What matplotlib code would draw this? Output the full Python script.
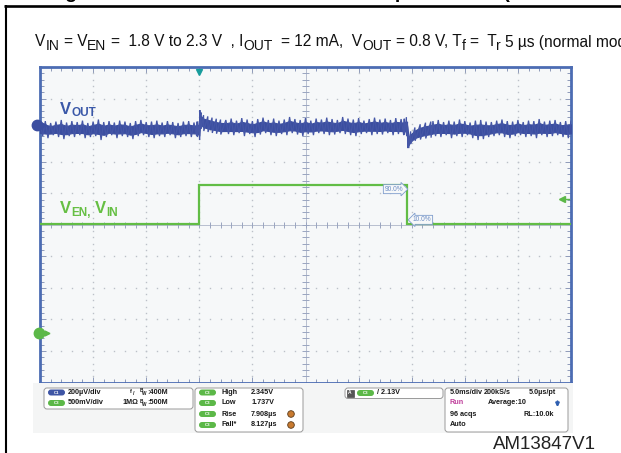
import numpy as np
import matplotlib
matplotlib.use('Agg')
import matplotlib.pyplot as plt
from matplotlib.patches import FancyBboxPatch, Rectangle, Circle
from matplotlib import transforms
from matplotlib.collections import LineCollection

plt.rcParams['font.family'] = ['Liberation Sans', 'DejaVu Sans']
plt.rcParams['mathtext.fontset'] = 'custom'
plt.rcParams['mathtext.rm'] = 'Liberation Sans'
plt.rcParams['mathtext.it'] = 'Liberation Sans:italic'
plt.rcParams['mathtext.bf'] = 'Liberation Sans:bold'

# ---------------- data ----------------
# time in ms (5 ms/div), trigger at t = 0
time_window = [-15.0, 35.0]

# V_EN / V_IN trace (V), 500 mV/div
ven_t = [-15.0, 0.0, 0.0, 19.6, 19.6, 35.0]
ven_v = [1.737, 1.737, 2.345, 2.345, 1.737, 1.737]
trig_level = 2.13
meas_high = 2.345
meas_low = 1.737

# V_OUT deviation from 0.8 V (uV), 200 uV/div; upper / lower noise envelope of the trace
# (upper samples at t, lower samples half a step later)
pre_t = np.arange(-15.0, -0.4, 0.5)
pre_hi = [19, 25, 13, 22, 32, 16, 25, 19, 28, 13, 22, 35, 19, 25, 16,
          28, 22, 13, 25, 32, 19, 22, 28, 16, 25, 19, 13, 22, 25, 16]
pre_lo = [-70, -83, -64, -76, -89, -70, -76, -64, -83, -76, -70, -95, -76, -64, -83,
          -70, -76, -89, -70, -64, -76, -83, -70, -76, -64, -83, -76, -70, -76, -70]

rise_t = [-0.2, 0.0, 0.05, 0.15, 0.4, 0.8, 1.2, 1.6, 2.0]
rise_hi = [22, 25, 95, 80, 63, 55, 47, 40, 35]
rise_lo = [-76, -95, -10, -25, -38, -44, -50, -55, -60]

mid_t = np.arange(2.5, 19.01, 0.5)
mid_hi = [32, 41, 28, 44, 35, 25, 38, 47, 32, 41, 28, 35, 51, 38, 32, 44, 28,
          41, 35, 47, 38, 32, 51, 41, 35, 44, 28, 38, 47, 35, 41, 32, 44, 38]
mid_lo = [-57, -64, -51, -70, -57, -76, -60, -51, -64, -70, -57, -64, -51, -60, -70, -57, -64,
          -51, -57, -64, -60, -51, -57, -64, -70, -57, -51, -64, -57, -60, -51, -64, -57, -64]

fall_t = [19.3, 19.5, 19.6, 19.7, 19.9, 20.3, 20.8, 21.3, 21.8]
fall_hi = [40, 50, 20, -60, -40, -15, 5, 15, 22]
fall_lo = [-60, -70, -146, -146, -120, -100, -92, -85, -80]

post_t = np.arange(22.0, 35.01, 0.5)
post_hi = [25, 32, 19, 28, 22, 35, 25, 16, 28, 32, 22, 19, 28, 35, 25, 22, 32, 19,
           28, 25, 38, 22, 28, 32, 19, 25, 28]
post_lo = [-70, -76, -64, -83, -70, -76, -64, -83, -95, -89, -76, -70, -64, -76, -83, -70, -64, -76,
           -70, -83, -64, -76, -70, -64, -76, -83, -70]

# ---------------- figure ----------------
W, H = 621, 453
fig = plt.figure(figsize=(W / 100, H / 100), dpi=100)

L, R, T, B = 40.0, 571.0, 67.0, 382.5
rect = [L / W, 1 - B / H, (R - L) / W, (B - T) / H]

# background grid axes in divisions
axg = fig.add_axes(rect, label='grid')
axg.set_xlim(0, 10)
axg.set_ylim(-5, 5)
axg.set_facecolor('#f6f8f9')
for s in axg.spines.values():
    s.set_color('#4c6cb3')
    s.set_linewidth(2.0)
axg.set_xticks(range(11))
axg.set_yticks(range(-5, 6))
axg.set_xticks(np.arange(0, 10.01, 0.2), minor=True)
axg.set_yticks(np.arange(-5, 5.01, 0.2), minor=True)
axg.tick_params(which='both', direction='in', top=True, right=True,
                labelleft=False, labelbottom=False, color='#8d9ab8', width=0.7)
axg.tick_params(which='major', length=4.5)
axg.tick_params(which='minor', length=2.8)
minx = np.arange(0, 10.01, 0.2)
miny = np.arange(-5, 5.01, 0.2)
for i in range(1, 10):
    if i == 5:
        continue
    axg.plot(np.full_like(miny, i), miny, ls='none', marker='s', ms=1.0, color='#bcc0c8', mec='none')
for j in range(-4, 5):
    if j == 0:
        continue
    axg.plot(minx, np.full_like(minx, j), ls='none', marker='s', ms=1.0, color='#bcc0c8', mec='none')
axg.axvline(5, color='#b8bfcf', lw=0.7)
axg.axhline(0, color='#b8bfcf', lw=0.7)
segs = [[(x, -0.09), (x, 0.09)] for x in minx] + [[(4.93, y), (5.07, y)] for y in miny]
axg.add_collection(LineCollection(segs, colors='#9aa5c0', linewidths=0.7))

# green trace axes (V)
ven_center, ven_scale = 1.72, 0.5
axv = fig.add_axes(rect, label='ven', frameon=False)
axv.set_xlim(*time_window)
axv.set_ylim(ven_center - 5 * ven_scale, ven_center + 5 * ven_scale)
axv.set_xticks([]); axv.set_yticks([])
axv.plot(ven_t, ven_v, color='#62bd46', lw=1.6, solid_joinstyle='miter')

# blue trace axes (uV)
vout_scale, vout_ref_div = 200.0, 3.16
axo = fig.add_axes(rect, label='vout', frameon=False)
axo.set_xlim(*time_window)
axo.set_ylim((-5 - vout_ref_div) * vout_scale, (5 - vout_ref_div) * vout_scale)
axo.set_xticks([]); axo.set_yticks([])

hi_t = np.concatenate([pre_t, rise_t, mid_t, fall_t, post_t])
hi_v = np.concatenate([pre_hi, rise_hi, mid_hi, fall_hi, post_hi]).astype(float)
lo_t = np.concatenate([pre_t + 0.25, np.array(rise_t) + 0.025, mid_t + 0.25,
                       np.array(fall_t) + 0.025, post_t + 0.25])
lo_v = np.concatenate([pre_lo, rise_lo, mid_lo, fall_lo, post_lo]).astype(float)

# dense core of the noisy trace
lo_on_hi = np.interp(hi_t, lo_t, lo_v)
centre = (hi_v + lo_on_hi) / 2
half = (hi_v - lo_on_hi) / 2
axo.fill_between(hi_t, centre - 0.55 * half, centre + 0.55 * half, color='#3b4ea0', lw=0.8,
                 edgecolor='#3b4ea0')
# noise excursions
zt = np.empty(hi_t.size * 2); zv = np.empty(hi_t.size * 2)
zt[0::2], zt[1::2] = hi_t, lo_t
zv[0::2], zv[1::2] = hi_v, lo_v
order = np.argsort(zt, kind='stable')
axo.plot(zt[order], zv[order], color='#4456a6', lw=0.9, solid_joinstyle='miter')

# markers
tb = transforms.blended_transform_factory(axo.transAxes, axo.transData)
axo.plot([(37 - L) / (R - L)], [0], marker='o', ms=7.5, color='#3b4ea0', transform=tb, clip_on=False)
axo.plot([(44 - L) / (R - L)], [0], marker='>', ms=3.5, color='#3b4ea0', transform=tb, clip_on=False)
tg = transforms.blended_transform_factory(axv.transAxes, axv.transData)
axv.plot([(39 - L) / (R - L)], [0], marker='o', ms=7.5, color='#5cb848', transform=tg, clip_on=False)
axv.plot([(47 - L) / (R - L)], [0], marker='>', ms=3.5, color='#5cb848', transform=tg, clip_on=False)
axv.plot([(562 - L) / (R - L), (569 - L) / (R - L)], [trig_level, trig_level], color='#5cb848', lw=1.0,
         transform=tg, clip_on=False)
axv.plot([(562 - L) / (R - L)], [trig_level], marker='<', ms=4, color='#5cb848', transform=tg, clip_on=False)
tt = transforms.blended_transform_factory(axv.transData, axv.transAxes)
axv.plot([0], [0.985], marker='v', ms=5, color='#179c9c', transform=tt, clip_on=False)

# 90 % / 10 % measurement flags
lvl90 = meas_low + 0.9 * (meas_high - meas_low)
lvl10 = meas_low + 0.1 * (meas_high - meas_low)
axv.text(18.3, lvl90, '90.0%', fontsize=4.8, color='#6b8cc4', ha='center', va='center',
         bbox=dict(boxstyle='rarrow,pad=0.15', fc='#f6f8f9', ec='#7e9ccc', lw=0.6))
axv.text(21.0, lvl10, '10.0%', fontsize=4.8, color='#6b8cc4', ha='center', va='center',
         bbox=dict(boxstyle='larrow,pad=0.15', fc='#f6f8f9', ec='#7e9ccc', lw=0.6))

# ---------------- overlay in pixel coordinates ----------------
ov = fig.add_axes([0, 0, 1, 1], label='overlay')
ov.set_xlim(0, W)
ov.set_ylim(H, 0)
ov.axis('off')
ov.set_zorder(5)

ov.plot([4, W], [6, 6], color='black', lw=1.9, solid_capstyle='butt')
ov.plot([6, 6], [5, H], color='black', lw=1.5, solid_capstyle='butt')
ov.text(48, -1.5, 'Figure 27. Line transient at 12 mA output current (normal mode)', fontsize=14,
        fontweight='bold', va='baseline', ha='left', color='black')

renderer = fig.canvas.get_renderer()


def text_width(s, size, weight='normal'):
    t = ov.text(0, 0, s, fontsize=size, fontweight=weight)
    w = t.get_window_extent(renderer=renderer).width
    t.remove()
    return w


def rich_line(x, y, pieces, size, subsize, drop, color, weight='normal'):
    sp = {size: text_width('a a', size, weight) - text_width('aa', size, weight),
          subsize: text_width('a a', subsize, weight) - text_width('aa', subsize, weight)}
    for s, sub in pieces:
        fs = subsize if sub else size
        lead = len(s) - len(s.lstrip(' '))
        trail = len(s) - len(s.rstrip(' '))
        core = s.strip(' ')
        x += lead * sp[fs]
        if core:
            ov.text(x, y + (drop if sub else 0), core, fontsize=fs, fontweight=weight,
                    color=color, va='baseline', ha='left')
            x += text_width(core, fs, weight)
        x += trail * sp[fs]


cond_pieces = [('V', False), ('IN', True), (' = V', False), ('EN', True),
               (' =  1.8 V to 2.3 V  , I', False), ('OUT', True), ('  = 12 mA,  V', False),
               ('OUT', True), (' = 0.8 V, T', False), ('f', True), (' =  T', False), ('r', True),
               (' 5 µs (normal mode)', False)]
rich_line(35, 46.5, cond_pieces, 11.2, 10.0, 3.8, '#111111')

rich_line(60, 114, [('V', False), ('OUT', True)], 12, 8.5, 2.5, '#3a58a8', 'bold')
rich_line(60, 213, [('V', False), ('EN,', True), (' V', False), ('IN', True)], 12, 8.5, 2.5,
          '#66bf44', 'bold')

# panel background
ov.add_patch(Rectangle((33, 383), 540, 50, fc='#f4f5f5', ec='none', zorder=0))


def box(x0, y0, x1, y1):
    ov.add_patch(FancyBboxPatch((x0, y0), x1 - x0, y1 - y0, boxstyle='round,pad=0,rounding_size=3',
                                fc='white', ec='#9a9a9a', lw=0.7))


def pill(x, y, color, label):
    ov.add_patch(FancyBboxPatch((x, y - 3), 17, 6, boxstyle='round,pad=0,rounding_size=3',
                                fc=color, ec='none'))
    ov.text(x + 8.5, y, label, fontsize=3.2, color='white', ha='center', va='center', fontweight='bold')


PS = 5.2


def ptxt(x, y, s, color='#1a1a1a', size=PS):
    ov.text(x, y, s, fontsize=size, fontweight='bold', color=color, ha='left', va='center')


def bw(x, y, val):
    ptxt(x, y - 1.6, 'B', size=3.4)
    ptxt(x + 2.5, y + 1.2, 'W', size=3.4)
    ptxt(x + 7, y, val)


blue_c, green_c = '#3e55a5', '#5cb848'
box(44, 388, 193, 409)
pill(48, 392.5, blue_c, 'C1')
ptxt(68, 392.5, '200µV/div')
ptxt(130, 391.5, 'f', size=4)
ptxt(132.5, 393.5, '/', size=4)
bw(140, 392.5, ':400M')
pill(48, 403, green_c, 'C3')
ptxt(68, 403, '500mV/div')
ptxt(122, 403, '1MΩ')
bw(140, 403, ':500M')

box(195, 388, 303, 432)
rows = [392.5, 403, 414, 425]
for yy, lab, val in zip(rows, ['High', 'Low', 'Rise', 'Fall*'], ['2.345V', '1.737V', '7.908µs', '8.127µs']):
    pill(199, yy, green_c, 'C3')
    ptxt(221, yy, lab)
    ptxt(251, yy, val)
for yy in rows[2:]:
    ov.add_patch(Circle((291, yy), 3.3, fc='#c87a30', ec='#5a3a1a', lw=0.6))

box(345, 388, 443, 398.5)
ov.add_patch(Rectangle((346.5, 389.5), 7, 7, fc='#555555', ec='#333333', lw=0.4))
ov.text(350, 393, 'A', fontsize=3.5, color='white', ha='center', va='center', fontweight='bold')
pill(357, 393, green_c, 'C3')
ptxt(377, 393, '/ 2.13V')

box(445, 388, 568, 432)
ptxt(450, 392.5, '5.0ms/div')
ptxt(484, 392.5, '200kS/s')
ptxt(529, 392.5, '5.0µs/pt')
ptxt(450, 403, 'Run', color='#c0409c')
ptxt(488, 403, 'Average:10')
ptxt(450, 414, '96 acqs')
ptxt(524, 414, 'RL:10.0k')
ptxt(450, 425, 'Auto')
ov.annotate('', xy=(557.5, 410), xytext=(557.5, 398.5),
            arrowprops=dict(arrowstyle='-|>', color='#2f5fb0', lw=1.4, mutation_scale=5))

ov.text(493, 449, 'AM13847V1', fontsize=13.5, color='#222222', ha='left', va='baseline')

fig.savefig('out.png', dpi=100)
